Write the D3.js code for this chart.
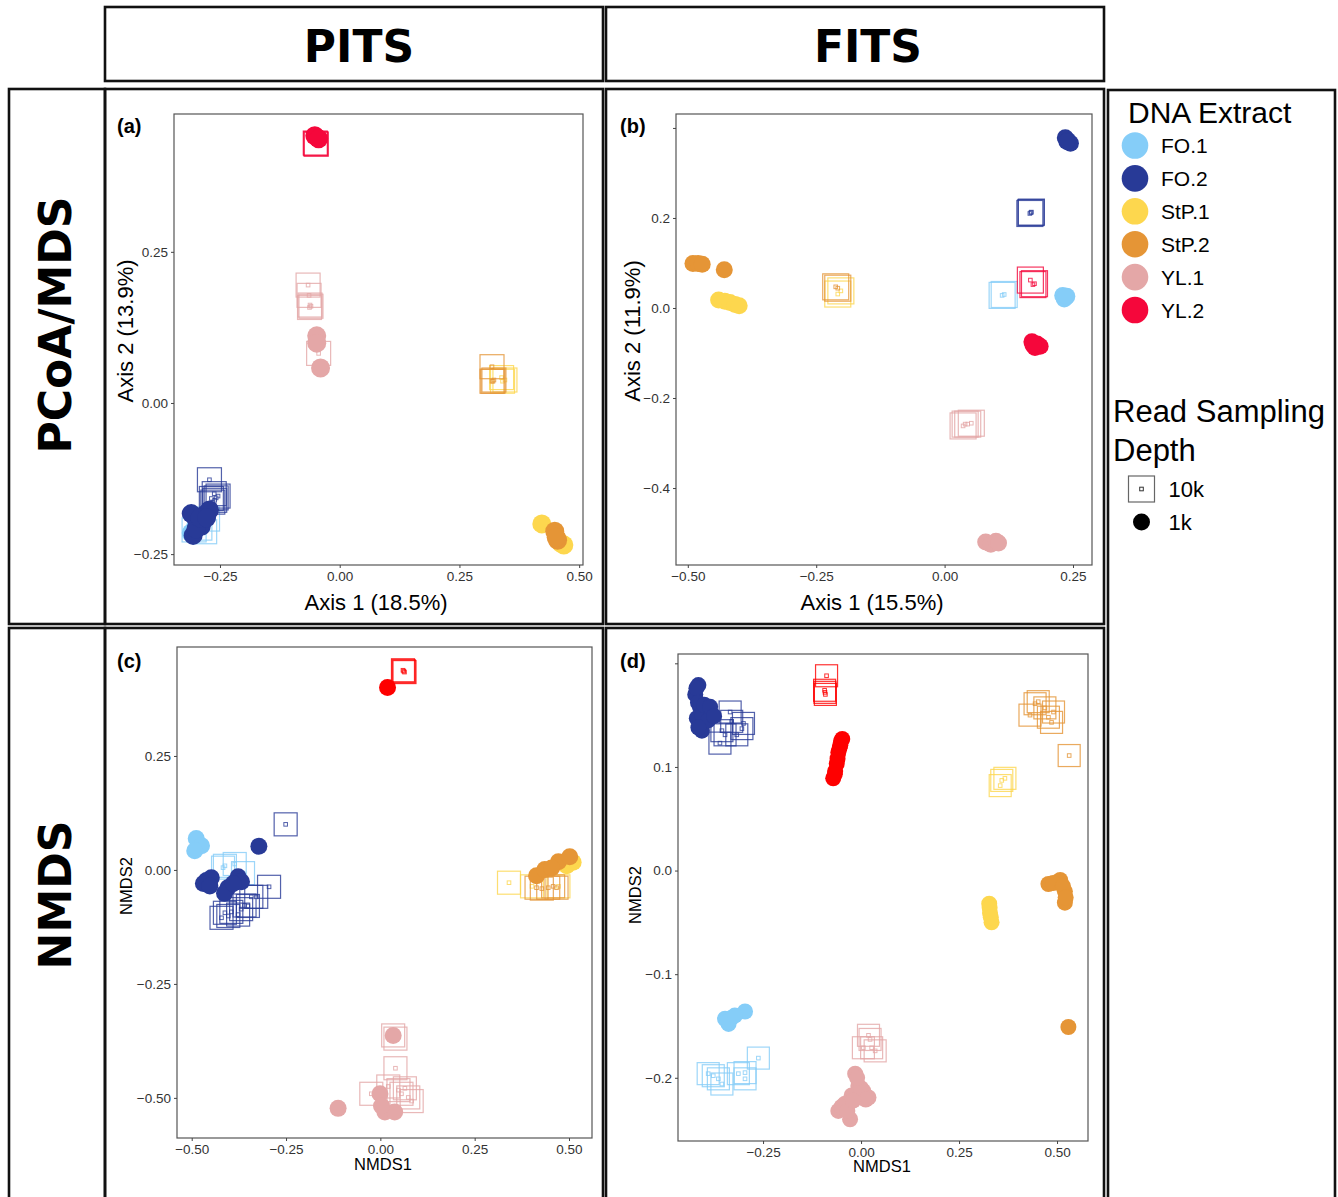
<html>
  <head>
    <meta charset="utf-8">
    <script src="https://d3js.org/d3.v7.min.js"></script>
    <style>
      body { margin: 0; background: #fff; }
      text { font-family: "Liberation Sans", Arial, sans-serif; }
    </style>
  </head>
  <body>
    <svg id="fig" width="1338" height="1197"></svg>
    <script>
      // DNA extracts and their colours
      const groups = ["FO.1", "FO.2", "StP.1", "StP.2", "YL.1", "YL.2"];
      const pcoaColors = ["#85cdf8", "#283a97", "#fdd74e", "#e59536", "#e4a7a7", "#f5073b"];
      const nmdsColors = ["#85cdf8", "#283a97", "#fdd74e", "#e59536", "#e4a7a7", "#fe0000"];
      const depthLabels = ["10k", "1k"];

      // (a) PITS, PCoA  [extract, axis1, axis2]
      const pitsPcoa1k = [
        ["FO.1", -0.31, -0.215], ["FO.1", -0.304, -0.21],
        ["FO.2", -0.306, -0.219], ["FO.2", -0.296, -0.199], ["FO.2", -0.282, -0.185],
        ["FO.2", -0.272, -0.177], ["FO.2", -0.303, -0.188], ["FO.2", -0.289, -0.204],
        ["FO.2", -0.31, -0.183], ["FO.2", -0.3, -0.208], ["FO.2", -0.292, -0.19], ["FO.2", -0.278, -0.19],
        ["StP.1", 0.422, -0.2], ["StP.1", 0.468, -0.235], ["StP.1", 0.462, -0.232],
        ["StP.2", 0.449, -0.212], ["StP.2", 0.455, -0.227], ["StP.2", 0.452, -0.222],
        ["YL.1", -0.048, 0.111], ["YL.1", -0.048, 0.099], ["YL.1", -0.04, 0.058],
        ["YL.2", -0.052, 0.442], ["YL.2", -0.044, 0.437]
      ];
      const pitsPcoa10k = [
        ["FO.1", -0.304, -0.21], ["FO.1", -0.282, -0.213], ["FO.1", -0.292, -0.207], ["FO.1", -0.276, -0.192],
        ["FO.2", -0.272, -0.127], ["FO.2", -0.261, -0.161], ["FO.2", -0.258, -0.157], ["FO.2", -0.265, -0.164],
        ["FO.2", -0.254, -0.154], ["FO.2", -0.262, -0.15], ["FO.2", -0.268, -0.158],
        ["StP.1", 0.34, 0.036], ["StP.1", 0.345, 0.038], ["StP.1", 0.338, 0.042],
        ["StP.2", 0.318, 0.06], ["StP.2", 0.32, 0.036], ["StP.2", 0.318, 0.036], ["StP.2", 0.322, 0.038],
        ["YL.1", -0.066, 0.195], ["YL.1", -0.064, 0.178], ["YL.1", -0.062, 0.162], ["YL.1", -0.06, 0.16],
        ["YL.1", -0.063, 0.158], ["YL.1", -0.044, 0.082],
        ["YL.2", -0.05, 0.429], ["YL.2", -0.049, 0.428], ["YL.2", -0.051, 0.43]
      ];

      // (b) FITS, PCoA
      const fitsPcoa1k = [
        ["FO.1", 0.23, 0.028], ["FO.1", 0.236, 0.024], ["FO.1", 0.233, 0.02], ["FO.1", 0.238, 0.026],
        ["FO.2", 0.235, 0.378], ["FO.2", 0.24, 0.372], ["FO.2", 0.245, 0.366], ["FO.2", 0.238, 0.37],
        ["StP.1", -0.44, 0.018], ["StP.1", -0.428, 0.015], ["StP.1", -0.418, 0.012],
        ["StP.1", -0.408, 0.008], ["StP.1", -0.4, 0.005],
        ["StP.2", -0.49, 0.099], ["StP.2", -0.48, 0.099], ["StP.2", -0.472, 0.097], ["StP.2", -0.429, 0.085],
        ["YL.1", 0.08, -0.52], ["YL.1", 0.09, -0.525], ["YL.1", 0.1, -0.518], ["YL.1", 0.105, -0.522],
        ["YL.2", 0.17, -0.075], ["YL.2", 0.18, -0.08], ["YL.2", 0.186, -0.085],
        ["YL.2", 0.176, -0.088], ["YL.2", 0.172, -0.082]
      ];
      const fitsPcoa10k = [
        ["FO.1", 0.112, 0.028], ["FO.1", 0.116, 0.03],
        ["FO.2", 0.168, 0.212], ["FO.2", 0.166, 0.21], ["FO.2", 0.169, 0.213],
        ["StP.1", -0.208, 0.031], ["StP.1", -0.202, 0.038],
        ["StP.2", -0.212, 0.047], ["StP.2", -0.208, 0.044],
        ["YL.1", 0.045, -0.258], ["YL.1", 0.052, -0.256], ["YL.1", 0.036, -0.262], ["YL.1", 0.04, -0.258],
        ["YL.2", 0.167, 0.062], ["YL.2", 0.175, 0.054], ["YL.2", 0.172, 0.052]
      ];

      // (c) PITS, NMDS
      const pitsNmds1k = [
        ["FO.1", -0.488, 0.069], ["FO.1", -0.474, 0.053], ["FO.1", -0.492, 0.042],
        ["FO.2", -0.322, 0.052], ["FO.2", -0.461, -0.023], ["FO.2", -0.448, -0.017], ["FO.2", -0.469, -0.03],
        ["FO.2", -0.404, -0.039], ["FO.2", -0.377, -0.015], ["FO.2", -0.368, -0.026], ["FO.2", -0.413, -0.051],
        ["FO.2", -0.452, -0.035], ["FO.2", -0.39, -0.03],
        ["StP.1", 0.511, 0.017], ["StP.1", 0.494, 0.009],
        ["StP.2", 0.414, -0.013], ["StP.2", 0.436, 0.001], ["StP.2", 0.472, 0.018],
        ["StP.2", 0.502, 0.029], ["StP.2", 0.454, 0.004],
        ["YL.1", 0.034, -0.363], ["YL.1", -0.112, -0.523], ["YL.1", -0.001, -0.491],
        ["YL.1", 0.012, -0.531], ["YL.1", 0.038, -0.531], ["YL.1", 0.003, -0.518],
        ["YL.2", 0.019, 0.4]
      ];
      const pitsNmds10k = [
        ["FO.1", -0.412, 0.009], ["FO.1", -0.386, 0.013], ["FO.1", -0.364, -0.007], ["FO.1", -0.417, 0.005],
        ["FO.2", -0.251, 0.1], ["FO.2", -0.295, -0.037], ["FO.2", -0.412, -0.094], ["FO.2", -0.395, -0.092],
        ["FO.2", -0.369, -0.086], ["FO.2", -0.342, -0.059], ["FO.2", -0.329, -0.059], ["FO.2", -0.36, -0.078],
        ["FO.2", -0.403, -0.101], ["FO.2", -0.421, -0.105], ["FO.2", -0.377, -0.098], ["FO.2", -0.351, -0.079],
        ["StP.1", 0.341, -0.028], ["StP.1", 0.402, -0.036], ["StP.1", 0.472, -0.036],
        ["StP.2", 0.414, -0.039], ["StP.2", 0.445, -0.039], ["StP.2", 0.467, -0.039],
        ["StP.2", 0.428, -0.041], ["StP.2", 0.458, -0.036],
        ["YL.1", 0.034, -0.363], ["YL.1", 0.04, -0.37], ["YL.1", 0.04, -0.435], ["YL.1", -0.024, -0.491],
        ["YL.1", 0.056, -0.491], ["YL.1", 0.074, -0.499], ["YL.1", 0.048, -0.483], ["YL.1", 0.083, -0.507],
        ["YL.1", 0.021, -0.475], ["YL.1", 0.065, -0.479],
        ["YL.2", 0.062, 0.436], ["YL.2", 0.064, 0.434], ["YL.2", 0.06, 0.438]
      ];

      // (d) FITS, NMDS
      const fitsNmds1k = [
        ["FO.1", -0.347, -0.143], ["FO.1", -0.33, -0.142], ["FO.1", -0.296, -0.136], ["FO.1", -0.338, -0.148],
        ["FO.1", -0.34, -0.146], ["FO.1", -0.322, -0.14],
        ["FO.2", -0.415, 0.179], ["FO.2", -0.423, 0.17], ["FO.2", -0.411, 0.158], ["FO.2", -0.398, 0.155],
        ["FO.2", -0.381, 0.151], ["FO.2", -0.411, 0.142], ["FO.2", -0.406, 0.135], ["FO.2", -0.419, 0.147],
        ["FO.2", -0.42, 0.176], ["FO.2", -0.416, 0.162], ["FO.2", -0.405, 0.15], ["FO.2", -0.39, 0.145],
        ["FO.2", -0.415, 0.138], ["FO.2", -0.4, 0.16], ["FO.2", -0.385, 0.158], ["FO.2", -0.375, 0.149],
        ["StP.1", 0.327, -0.032], ["StP.1", 0.329, -0.041], ["StP.1", 0.333, -0.05],
        ["StP.1", 0.328, -0.036], ["StP.1", 0.331, -0.045],
        ["StP.2", 0.478, -0.013], ["StP.2", 0.508, -0.009], ["StP.2", 0.52, -0.02],
        ["StP.2", 0.52, -0.031], ["StP.2", 0.529, -0.151], ["StP.2", 0.49, -0.012],
        ["StP.2", 0.515, -0.015], ["StP.2", 0.522, -0.026],
        ["YL.1", -0.015, -0.196], ["YL.1", -0.007, -0.208], ["YL.1", 0.019, -0.219], ["YL.1", -0.024, -0.217],
        ["YL.1", -0.058, -0.232], ["YL.1", -0.028, -0.24], ["YL.1", -0.041, -0.225], ["YL.1", 0.006, -0.213],
        ["YL.1", -0.05, -0.228], ["YL.1", -0.035, -0.232], ["YL.1", 0.0, -0.21], ["YL.1", 0.012, -0.221],
        ["YL.1", -0.01, -0.2], ["YL.1", -0.02, -0.222],
        ["YL.2", -0.051, 0.125], ["YL.2", -0.058, 0.114], ["YL.2", -0.062, 0.103],
        ["YL.2", -0.071, 0.089], ["YL.2", -0.053, 0.121], ["YL.2", -0.066, 0.096],
        ["YL.2", -0.067, 0.093], ["YL.2", -0.06, 0.108], ["YL.2", -0.055, 0.118], ["YL.2", -0.048, 0.127]
      ];
      const fitsNmds10k = [
        ["FO.1", -0.39, -0.196], ["FO.1", -0.364, -0.201], ["FO.1", -0.296, -0.195], ["FO.1", -0.262, -0.181],
        ["FO.1", -0.296, -0.201], ["FO.1", -0.355, -0.206], ["FO.1", -0.313, -0.196], ["FO.1", -0.377, -0.198],
        ["FO.2", -0.334, 0.153], ["FO.2", -0.33, 0.144], ["FO.2", -0.36, 0.123], ["FO.2", -0.304, 0.137],
        ["FO.2", -0.317, 0.131], ["FO.2", -0.347, 0.131], ["FO.2", -0.3, 0.142], ["FO.2", -0.355, 0.135],
        ["StP.1", 0.359, 0.087], ["StP.1", 0.367, 0.089], ["StP.1", 0.355, 0.082],
        ["StP.2", 0.444, 0.161], ["StP.2", 0.469, 0.157], ["StP.2", 0.431, 0.15], ["StP.2", 0.478, 0.148],
        ["StP.2", 0.452, 0.163], ["StP.2", 0.491, 0.153], ["StP.2", 0.486, 0.143], ["StP.2", 0.531, 0.111],
        ["YL.1", 0.019, -0.159], ["YL.1", 0.027, -0.171], ["YL.1", 0.006, -0.171],
        ["YL.1", 0.023, -0.163], ["YL.1", 0.036, -0.174],
        ["YL.2", -0.092, 0.172], ["YL.2", -0.088, 0.188], ["YL.2", -0.091, 0.17], ["YL.2", -0.093, 0.174]
      ];

      // tick values
      const ticksA_x = [-0.25, 0, 0.25, 0.5], ticksA_y = [-0.25, 0, 0.25];
      const ticksB_x = [-0.5, -0.25, 0, 0.25], ticksB_y = [-0.4, -0.2, 0, 0.2, 0.4];
      const ticksC_x = [-0.5, -0.25, 0, 0.25, 0.5], ticksC_y = [-0.5, -0.25, 0, 0.25];
      const ticksD_x = [-0.25, 0, 0.25, 0.5], ticksD_y = [-0.2, -0.1, 0, 0.1, 0.2];

      const svg = d3.select("#fig");

      const panels = [
        { tag: "(a)", lx: 117, ly: 133, box: [174, 583, 114, 565], xd: [-0.346, 0.508], yd: [-0.268, 0.478],
          xt: ticksA_x, yt: ticksA_y, yHide: [], xf: ".2f", yf: ".2f", colors: pcoaColors,
          p1: pitsPcoa1k, p10: pitsPcoa10k, r: 9.5, s: 24,
          xTitle: "Axis 1 (18.5%)", yTitle: "Axis 2 (13.9%)", big: true, tx: 376, tyBase: 610, yx: 125, yy: 331 },
        { tag: "(b)", lx: 620, ly: 133, box: [676, 1092, 114, 565], xd: [-0.523, 0.287], yd: [-0.571, 0.431],
          xt: ticksB_x, yt: ticksB_y, yHide: [0.4], xf: ".2f", yf: ".1f", colors: pcoaColors,
          p1: fitsPcoa1k, p10: fitsPcoa10k, r: 8.5, s: 26,
          xTitle: "Axis 1 (15.5%)", yTitle: "Axis 2 (11.9%)", big: true, tx: 872, tyBase: 610, yx: 632, yy: 331 },
        { tag: "(c)", lx: 117, ly: 668, box: [177, 592, 647, 1138], xd: [-0.539, 0.561], yd: [-0.588, 0.489],
          xt: ticksC_x, yt: ticksC_y, yHide: [], xf: ".2f", yf: ".2f", colors: nmdsColors,
          p1: pitsNmds1k, p10: pitsNmds10k, r: 8.5, s: 23,
          xTitle: "NMDS1", yTitle: "NMDS2", big: false, tx: 383, tyBase: 1170, yx: 126, yy: 886 },
        { tag: "(d)", lx: 620, ly: 668, box: [678, 1088, 654, 1141], xd: [-0.467, 0.579], yd: [-0.261, 0.209],
          xt: ticksD_x, yt: ticksD_y, yHide: [0.2], xf: ".2f", yf: ".1f", colors: nmdsColors,
          p1: fitsNmds1k, p10: fitsNmds10k, r: 8, s: 22,
          xTitle: "NMDS1", yTitle: "NMDS2", big: false, tx: 882, tyBase: 1172, yx: 635, yy: 895 }
      ];

      // outer frames
      const frames = [
        [105, 7, 498, 74], [606, 7, 498, 74],
        [9, 89, 96, 535], [105, 89, 498, 535], [606, 89, 498, 535],
        [9, 628, 96, 575], [105, 628, 498, 575], [606, 628, 498, 575],
        [1108, 90, 227, 1115]
      ];
      svg.selectAll("rect.frame").data(frames).enter().append("rect")
        .attr("class", "frame")
        .attr("x", (d) => d[0]).attr("y", (d) => d[1])
        .attr("width", (d) => d[2]).attr("height", (d) => d[3])
        .attr("fill", "none").attr("stroke", "#111").attr("stroke-width", 2.6);

      const bigLabel = (sel) => sel.style("font-family", "DejaVu Sans").style("font-weight", "bold").style("font-size", "44px");
      svg.append("text").attr("x", 359).attr("y", 62).attr("text-anchor", "middle").call(bigLabel).text("PITS");
      svg.append("text").attr("x", 868).attr("y", 62).attr("text-anchor", "middle").call(bigLabel).text("FITS");
      svg.append("text").attr("transform", "translate(71,325) rotate(-90)").attr("text-anchor", "middle")
        .call(bigLabel).text("PCoA/MDS");
      svg.append("text").attr("transform", "translate(71,895) rotate(-90)").attr("text-anchor", "middle")
        .call(bigLabel).text("NMDS");

      const colorOf = (colors, name) => colors[groups.indexOf(name)];

      panels.forEach((p) => {
        const [l, r, t, b] = p.box;
        const x = d3.scaleLinear().domain(p.xd).range([l, r]);
        const y = d3.scaleLinear().domain(p.yd).range([b, t]);
        const g = svg.append("g");

        g.append("text").attr("x", p.lx).attr("y", p.ly)
          .style("font-weight", "bold").style("font-size", "20px").text(p.tag);

        // 10k: open squares with a tiny square in the middle
        const sq = g.append("g").selectAll("g").data(p.p10).enter().append("g")
          .attr("transform", (d) => `translate(${x(d[1])},${y(d[2])})`)
          .attr("stroke", (d) => colorOf(p.colors, d[0]))
          .attr("fill", "none").attr("opacity", 0.8);
        sq.append("rect").attr("x", -p.s / 2).attr("y", -p.s / 2)
          .attr("width", p.s).attr("height", p.s).attr("stroke-width", 1.2);
        sq.append("rect").attr("x", -1.8).attr("y", -1.8)
          .attr("width", 3.6).attr("height", 3.6).attr("stroke-width", 1);

        // 1k: filled circles
        g.append("g").selectAll("circle").data(p.p1).enter().append("circle")
          .attr("cx", (d) => x(d[1])).attr("cy", (d) => y(d[2])).attr("r", p.r)
          .attr("fill", (d) => colorOf(p.colors, d[0]));

        g.append("rect").attr("x", l).attr("y", t).attr("width", r - l).attr("height", b - t)
          .attr("fill", "none").attr("stroke", "#555").attr("stroke-width", 1.2);

        const xa = g.append("g").attr("transform", `translate(0,${b})`)
          .call(d3.axisBottom(x).tickValues(p.xt).tickFormat(d3.format(p.xf)).tickSize(3).tickPadding(3));
        const ya = g.append("g").attr("transform", `translate(${l},0)`)
          .call(d3.axisLeft(y).tickValues(p.yt)
            .tickFormat((v) => (p.yHide.includes(v) ? "" : d3.format(p.yf)(v)))
            .tickSize(3).tickPadding(3));
        [xa, ya].forEach((a) => {
          a.select(".domain").remove();
          a.selectAll("line").attr("stroke", "#444");
          a.selectAll("text").attr("fill", "#333")
            .style("font-family", "Liberation Sans, Arial, sans-serif").style("font-size", "13.5px");
        });

        const fs = p.big ? "22px" : "16.5px";
        g.append("text").attr("x", p.tx).attr("y", p.tyBase).attr("text-anchor", "middle")
          .style("font-size", fs).text(p.xTitle);
        g.append("text").attr("transform", `translate(${p.yx + (p.big ? 8 : 6)},${p.yy}) rotate(-90)`)
          .attr("text-anchor", "middle").style("font-size", fs).text(p.yTitle);
      });

      // legend
      const lg = svg.append("g");
      lg.append("text").attr("x", 1128).attr("y", 123).style("font-size", "30px").text("DNA Extract");
      const items = lg.selectAll("g.item").data(groups).enter().append("g")
        .attr("transform", (d, i) => `translate(1135,${145.5 + i * 32.9})`);
      items.append("circle").attr("r", 13.3).attr("fill", (d, i) => pcoaColors[i]);
      items.append("text").attr("x", 26).attr("y", 7.5).style("font-size", "21px").text((d) => d);

      lg.append("text").attr("x", 1113).attr("y", 422).style("font-size", "31px").text("Read Sampling");
      lg.append("text").attr("x", 1113).attr("y", 461).style("font-size", "31px").text("Depth");
      const dk = lg.selectAll("g.depth").data(depthLabels).enter().append("g")
        .attr("transform", (d, i) => `translate(1141.5,${489 + i * 33})`);
      dk.filter((d) => d === "10k").append("rect").attr("x", -13).attr("y", -13).attr("width", 26).attr("height", 26)
        .attr("fill", "none").attr("stroke", "#666").attr("stroke-width", 1.2);
      dk.filter((d) => d === "10k").append("rect").attr("x", -1.8).attr("y", -1.8).attr("width", 3.6).attr("height", 3.6)
        .attr("fill", "none").attr("stroke", "#333").attr("stroke-width", 1);
      dk.filter((d) => d === "1k").append("circle").attr("r", 8.5).attr("fill", "#000");
      dk.append("text").attr("x", 27).attr("y", 7.5).style("font-size", "22px").text((d) => d);
    </script>
  </body>
</html>
